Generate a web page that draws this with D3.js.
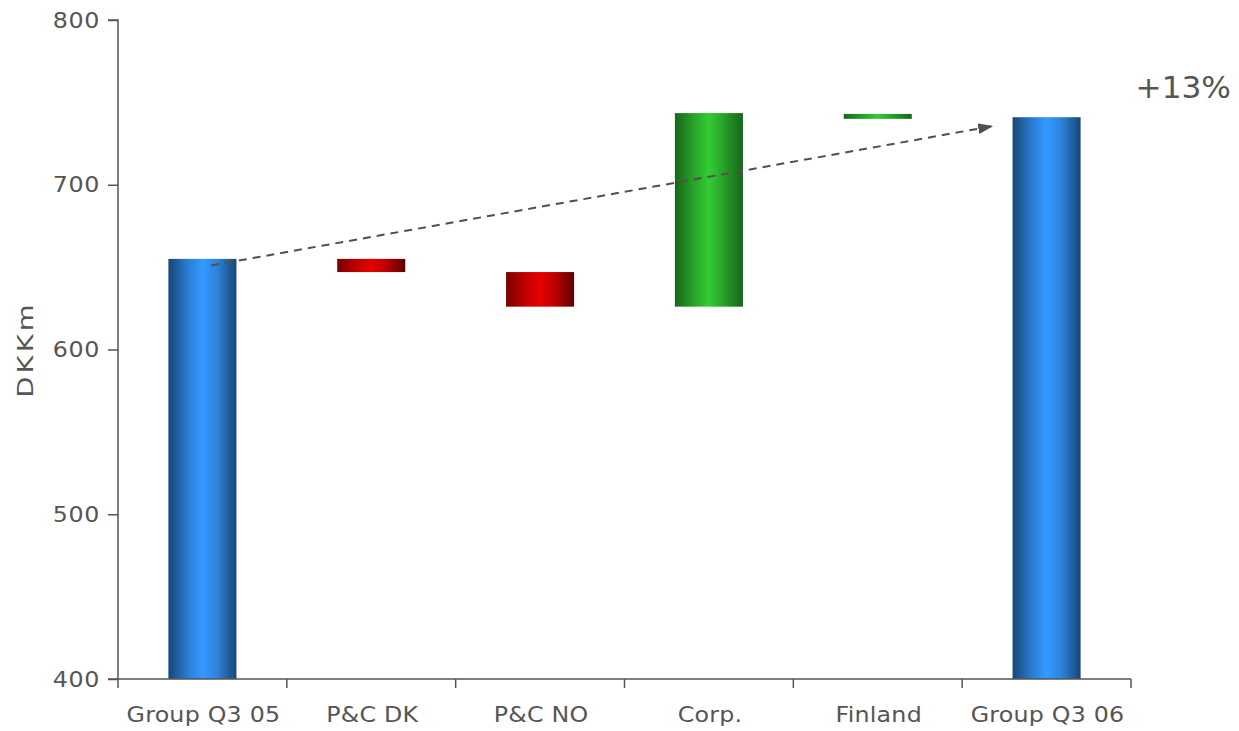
<!DOCTYPE html>
<html>
<head>
<meta charset="utf-8">
<script src="https://cdn.jsdelivr.net/npm/d3@7"></script>
<style>
  html, body { margin: 0; padding: 0; background: #fff; }
  svg { display: block; font-family: "DejaVu Sans", Verdana, sans-serif; }
</style>
</head>
<body>
<svg id="chart" width="1239" height="731"></svg>
<script>
// Bridge of group result, Q3 05 to Q3 06 (DKKm)
const categories = ["Group Q3 05", "P&C DK", "P&C NO", "Corp.", "Finland", "Group Q3 06"];
const barLow  = [400, 647, 626, 626, 740, 400];
const barHigh = [655, 655, 647, 743.5, 743, 741];
const barKind = ["total", "neg", "neg", "pos", "pos", "total"];
const yTicks = [400, 500, 600, 700, 800];
const growthLabel = "+13%";
const trendFrom = 651;   // value at the start of the dashed trend arrow
const trendTo = 735.5;   // value at the arrow head

const svg = d3.select("#chart");
const margin = { left: 118, right: 108, top: 20, bottom: 52 };
const W = 1239, H = 731;
const textColor = "#555";
const stretch = 1.13;    // wide lettering used throughout the labels

const x = d3.scaleBand()
  .domain(categories)
  .range([margin.left, W - margin.right])
  .paddingInner(0.597)
  .paddingOuter(0.2985);

const y = d3.scaleLinear()
  .domain([400, 800])
  .range([H - margin.bottom, margin.top]);

// Horizontal gradients giving each bar a cylindrical shading
const defs = svg.append("defs");
const palettes = {
  total: ["#184677", "#2b7fd6", "#3399ff", "#2f86de", "#184677"],
  neg:   ["#7a0000", "#c40000", "#e60000", "#c00000", "#5e0000"],
  pos:   ["#17661a", "#28a82b", "#33cc33", "#27a42a", "#17661a"]
};
Object.entries(palettes).forEach(([k, cols]) => {
  const g = defs.append("linearGradient").attr("id", "grad-" + k)
    .attr("x1", "0%").attr("x2", "100%").attr("y1", "0%").attr("y2", "0%");
  const stops = [0, 0.3, 0.5, 0.7, 1];
  cols.forEach((c, i) => g.append("stop").attr("offset", stops[i]).attr("stop-color", c));
});
defs.append("marker").attr("id", "arrowhead")
  .attr("viewBox", "0 0 14 10").attr("refX", 13).attr("refY", 5)
  .attr("markerWidth", 15).attr("markerHeight", 11).attr("orient", "auto")
  .attr("markerUnits", "userSpaceOnUse")
  .append("path").attr("d", "M0,0 L14,5 L0,10 z").attr("fill", "#505050");

// Bars
svg.append("g").selectAll("rect")
  .data(categories)
  .join("rect")
  .attr("x", d => x(d))
  .attr("width", x.bandwidth())
  .attr("y", (d, i) => y(barHigh[i]))
  .attr("height", (d, i) => y(barLow[i]) - y(barHigh[i]))
  .attr("fill", (d, i) => `url(#grad-${barKind[i]})`);

// Y axis: ticks from d3, labels drawn with wide lettering
const axisColor = "#555";
const yAxis = svg.append("g")
  .attr("transform", `translate(${margin.left},0)`)
  .call(d3.axisLeft(y).tickValues(yTicks).tickSize(10).tickFormat(""));
yAxis.select(".domain").attr("stroke", axisColor).attr("stroke-width", 1.5).attr("d", `M-10,${y(800)}H0V${y(400)}H-10`);
yAxis.selectAll(".tick line").attr("stroke", axisColor).attr("stroke-width", 1.5);
yAxis.selectAll(".tick text").remove();
svg.append("g").selectAll("text")
  .data(yTicks)
  .join("text")
  .attr("transform", d => `translate(${margin.left - 18},${y(d)}) scale(${stretch},1)`)
  .attr("dy", "0.36em")
  .attr("text-anchor", "end")
  .attr("fill", textColor)
  .attr("font-size", 21)
  .attr("letter-spacing", 0.6)
  .text(d3.format("d"));

// X axis: baseline, category separators and labels
const xEdges = categories.map(c => x(c) - x.step() * x.paddingInner() / 2).concat([W - margin.right]);
const xAxis = svg.append("g").attr("transform", `translate(0,${H - margin.bottom})`);
xAxis.append("line")
  .attr("x1", margin.left).attr("x2", W - margin.right)
  .attr("stroke", axisColor).attr("stroke-width", 1.5);
xAxis.selectAll("line.tick")
  .data(xEdges)
  .join("line").attr("class", "tick")
  .attr("x1", d => d).attr("x2", d => d).attr("y1", 0).attr("y2", 9)
  .attr("stroke", axisColor).attr("stroke-width", 1.5);
xAxis.selectAll("text")
  .data(categories)
  .join("text")
  .attr("transform", d => `translate(${x(d) + x.bandwidth() / 2 + 1},43) scale(${stretch},1)`)
  .attr("text-anchor", "middle")
  .attr("fill", textColor)
  .attr("font-size", 21)
  .attr("letter-spacing", 0.2)
  .text(d => d);

// Y-axis title
svg.append("text")
  .attr("transform", `translate(33,${(y(400) + y(800)) / 2}) rotate(-90) scale(1.25,1)`)
  .attr("text-anchor", "middle")
  .attr("fill", textColor)
  .attr("font-size", 22)
  .attr("letter-spacing", 2.5)
  .text("DKKm");

// Dashed trend arrow from the first total to the last total
const first = categories[0], last = categories[categories.length - 1];
svg.append("line")
  .attr("x1", x(first) + x.bandwidth() * 0.63)
  .attr("y1", y(trendFrom))
  .attr("x2", x(last) - x.bandwidth() * 0.3)
  .attr("y2", y(trendTo))
  .attr("stroke", "#505050")
  .attr("stroke-width", 2)
  .attr("stroke-dasharray", "8,6")
  .attr("marker-end", "url(#arrowhead)");

svg.append("text")
  .attr("transform", `translate(${W - 8},98) scale(1.04,1)`)
  .attr("text-anchor", "end")
  .attr("fill", textColor)
  .attr("font-size", 30)
  .text(growthLabel);
</script>
</body>
</html>
